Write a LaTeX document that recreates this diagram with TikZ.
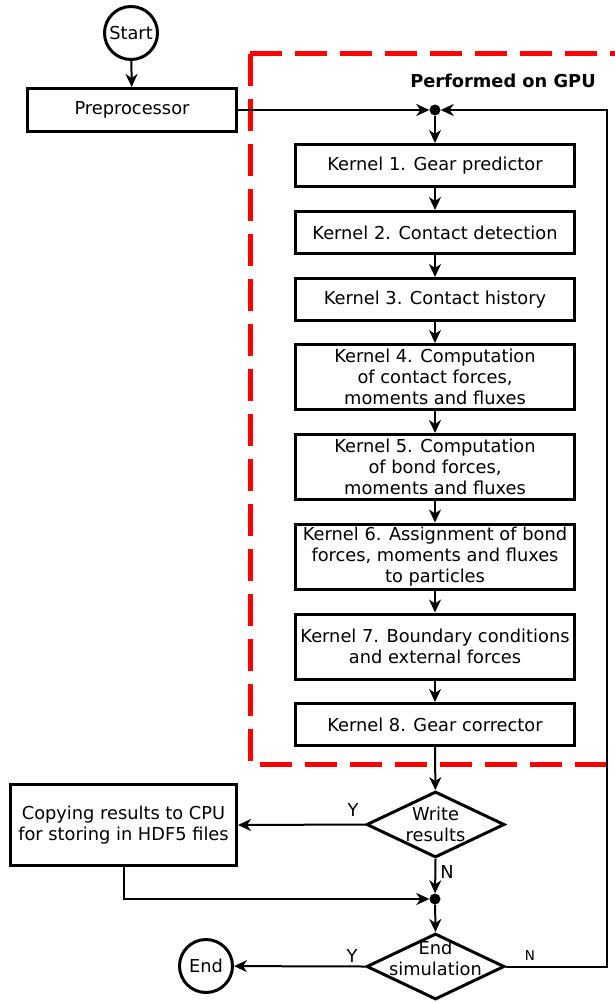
\documentclass[tikz,border=0pt]{standalone}
\usepackage{fontspec}
\setmainfont{DejaVu Sans}
\usetikzlibrary{shapes.geometric,arrows.meta}
\definecolor{gpured}{RGB}{255,0,0}
\newcommand{\boxfont}{\fontsize{17.8}{21}\selectfont}
\newcommand{\drawarrow}{\draw[line width=2pt,-{Stealth[length=13pt,width=12pt,inset=4pt]}]}
\newcommand{\drawdashed}{\draw[gpured,line width=5pt,dash pattern=on 32pt off 13pt]}
\tikzset{
  kernelbox/.style={draw,line width=3pt,minimum width=279pt,minimum height=42pt,align=center,inner sep=0pt,font=\boxfont},
  tallbox/.style={kernelbox,minimum height=65pt},
  terminal/.style={draw,circle,line width=3pt,minimum size=53pt,inner sep=1pt,font=\boxfont},
  decision/.style={draw,diamond,line width=3pt,minimum width=138pt,minimum height=66pt,inner sep=0pt},
  junction/.style={circle,fill,minimum size=11pt,inner sep=0pt},
  plain/.style={align=center,inner sep=0pt,font=\boxfont}
}
\begin{document}
\begin{tikzpicture}[x=1pt,y=-1pt]
\useasboundingbox (0,0) rectangle (614,1003);
\drawdashed (250,54)--(640,54);
\drawdashed (250,54)--(250,764)--(640,764);
\node[plain,font=\boxfont\bfseries] (gpu) at (503,81) {Performed on GPU};
\node[terminal] (start) at (131,33) {Start};
\node[kernelbox,minimum width=209pt,minimum height=43pt] (pre) at (132,110) {Preprocessor};
\node[junction] (j1) at (435,110) {};
\node[kernelbox] (k1) at (435,165.5) {Kernel 1. Gear predictor};
\node[kernelbox] (k2) at (435,232.5) {Kernel 2. Contact detection};
\node[kernelbox] (k3) at (435,299.5) {Kernel 3. Contact history};
\node[tallbox] (k4) at (435,377) {Kernel 4. Computation\\of contact forces,\\moments and fluxes};
\node[tallbox] (k5) at (435,467) {Kernel 5. Computation\\of bond forces,\\moments and fluxes};
\node[tallbox] (k6) at (435,556.5) {Kernel 6. Assignment of bond\\forces, moments and fluxes\\to particles};
\node[tallbox] (k7) at (435,646.5) {Kernel 7. Boundary conditions\\and external forces};
\node[kernelbox] (k8) at (435,724.5) {Kernel 8. Gear corrector};
\node[decision] (write) at (435.5,824.5) {};
\node[plain] (writetext) at (435.5,824.5) {Write\\results};
\node[kernelbox,minimum width=226pt,minimum height=81pt] (copy) at (123.5,825) {Copying results to CPU\\for storing in HDF5 files};
\node[junction] (j2) at (435,899) {};
\node[decision] (endsim) at (435.5,966.5) {};
\node[plain] (endtext) at (435.5,958) {End\\simulation};
\node[terminal] (end) at (206,966) {End};
\coordinate (loop) at (607,110);
\node[plain] (wy) at (353,810) {Y};
\node[plain] (wn) at (447,872) {N};
\node[plain] (ey) at (352,956) {Y};
\node[plain,font=\fontsize{13.5}{16}\selectfont] (en) at (530,956) {N};
\drawarrow (start)--(pre);
\drawarrow (pre)--(j1);
\drawarrow (j1)--(k1);
\drawarrow (k1)--(k2);
\drawarrow (k2)--(k3);
\drawarrow (k3)--(k4);
\drawarrow (k4)--(k5);
\drawarrow (k5)--(k6);
\drawarrow (k6)--(k7);
\drawarrow (k7)--(k8);
\drawarrow (k8)--(write);
\drawarrow (write.west)--(copy.east);
\drawarrow (write.south)--(j2);
\drawarrow (copy.south)|-(j2);
\drawarrow (j2)--(endsim.north);
\drawarrow (endsim.west)--(end);
\drawarrow (endsim.east)-|(loop)--(j1);
\end{tikzpicture}
\end{document}
